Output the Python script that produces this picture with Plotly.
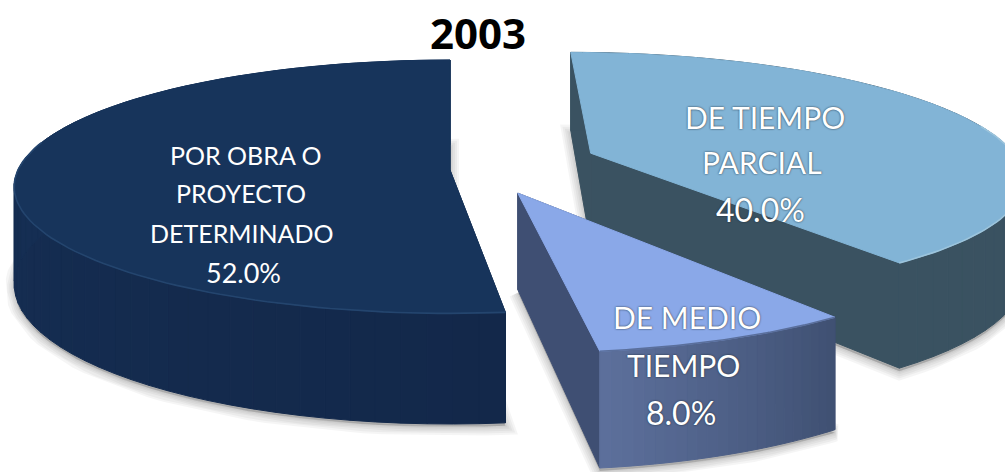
import numpy as np
import plotly.graph_objects as go

# --- data ---
title_text = "2003"
categories = ["DE TIEMPO PARCIAL", "DE MEDIO TIEMPO", "POR OBRA O PROYECTO DETERMINADO"]
values = [40.0, 8.0, 52.0]
label_lines = [["DE TIEMPO", "PARCIAL"], ["DE MEDIO", "TIEMPO"], ["POR OBRA O", "PROYECTO", "DETERMINADO"]]

# --- style ---
top_colors = ["#82b4d6", "#8aa8e8", "#17345b"]
face_colors = ["#3a5261", "#3f4f73", "#16304f"]
wall_start = ["#3a5261", "#3f5072", "#13284a"]
wall_end = ["#3a5261", "#5d709c", "#17335a"]
rim_colors = ["#9cc4dc", "#5a6f9c", "#24456e"]
offsets = [(145, -0.18), (66, 0.157), (0, 0.0)]  # exploded slice offset
start_nudge = [0.0, 0.0, 0.8]
radius = [436.0, 435.0, 432.0]
persp = [0.17, 0.17, 0.132]
vanish_y = [-564.0, -564.0, -773.0]
depth = [734.0, 734.0, 943.0]
height = [94.0, 94.0, 96.0]
y_shift = [5.0, 3.0, 0.0]
label_x = [[765, 762, 760], [687, 683, 681], [245, 241, 242, 243]]
label_y = [[117, 162, 209], [317, 365, 412], [155, 193, 233, 272]]
label_size = [30, 30, 25]
pct_size = [32, 32, 27]
label_outline = [True, True, False]
draw_order = [0, 2, 1]
VX = 450.0


def project(i, x_world, f_world, level=0.0):
    s = 1.0 / (1.0 - persp[i] * f_world)
    return VX + x_world * s, vanish_y[i] + (depth[i] + level) * s + y_shift[i]


def slice_outline(i, start, end, level=0.0, n=80):
    off = offsets[i]
    th = np.radians(np.linspace(start, end, n))
    xs = off[0] + radius[i] * np.sin(th)
    fs = off[1] - np.cos(th)
    ax, ay = project(i, off[0], off[1], level)
    px, py = project(i, xs, fs, level)
    return np.r_[ax, px, ax], np.r_[ay, py, ay]


def hex_mix(a, b, t):
    ca = [int(a[i:i + 2], 16) for i in (1, 3, 5)]
    cb = [int(b[i:i + 2], 16) for i in (1, 3, 5)]
    return "rgb(%d,%d,%d)" % tuple(round(p + (q - p) * t) for p, q in zip(ca, cb))


fig = go.Figure()


def poly(x, y, fill, line=None, width=1.0):
    fig.add_trace(go.Scatter(
        x=list(x), y=list(y), mode="lines", fill="toself", fillcolor=fill,
        line=dict(color=line or fill, width=width), hoverinfo="skip", showlegend=False,
    ))


spans = []
acc = 0.0
for v, nudge in zip(values, start_nudge):
    spans.append((acc + nudge, acc + v * 3.6))
    acc += v * 3.6

for i in draw_order:
    a0, a1 = spans[i]
    off = offsets[i]
    R, H = radius[i], height[i]

    # soft ground shadow
    bx, by = slice_outline(i, a0, a1, H)
    for w in (18, 14, 10, 6, 3):
        fig.add_trace(go.Scatter(
            x=list(bx), y=list(by + 3), mode="lines", fill="toself",
            fillcolor="rgba(0,0,0,0.04)", line=dict(color="rgba(0,0,0,0.04)", width=w),
            hoverinfo="skip", showlegend=False,
        ))

    # cut faces
    for ang in (a0, a1):
        th = np.radians(ang)
        ax, ay = project(i, off[0], off[1])
        abx, aby = project(i, off[0], off[1], H)
        ex, ey = project(i, off[0] + R * np.sin(th), off[1] - np.cos(th))
        ebx, eby = project(i, off[0] + R * np.sin(th), off[1] - np.cos(th), H)
        poly([ax, ex, ebx, abx, ax], [ay, ey, eby, aby, ay], face_colors[i])

    # outer wall, in strips so that it can carry a gradient
    n_strips = max(24, int((a1 - a0) / 3))
    edges = np.linspace(a0, a1, n_strips + 1)
    for j in range(n_strips):
        th = np.radians(np.linspace(edges[j], edges[j + 1], 5))
        xs, fs = off[0] + R * np.sin(th), off[1] - np.cos(th)
        tx, ty = project(i, xs, fs)
        wx, wy = project(i, xs, fs, H)
        col = hex_mix(wall_start[i], wall_end[i], (j + 0.5) / n_strips)
        poly(np.r_[tx, wx[::-1], tx[0]], np.r_[ty, wy[::-1], ty[0]], col)

    # top surface
    tx, ty = slice_outline(i, a0, a1)
    poly(tx, ty, top_colors[i])

    # lit rim on the front of the top surface
    th = np.radians(np.linspace(a0, a1, 120))
    mask = np.cos(th) < 0.25
    rx, ry = project(i, off[0] + R * np.sin(th[mask]), off[1] - np.cos(th[mask]))
    fig.add_trace(go.Scatter(x=list(rx), y=list(ry), mode="lines",
                             line=dict(color=rim_colors[i], width=1.6),
                             hoverinfo="skip", showlegend=False))

annotations = [dict(
    x=478, y=32, xref="x", yref="y", text="<b>%s</b>" % title_text, showarrow=False,
    font=dict(family="Open Sans", size=42, color="black"),
)]
for i, lines in enumerate(label_lines):
    texts = lines + ["%.1f%%" % values[i]]
    for k, line in enumerate(texts):
        size = pct_size[i] if k == len(lines) else label_size[i]
        font = dict(family="Lato", size=size, color="white")
        if label_outline[i]:
            font["shadow"] = "0px 0px 2px #1f2a36"
        annotations.append(dict(x=label_x[i][k], y=label_y[i][k], xref="x", yref="y",
                                text=line, showarrow=False, font=font))

fig.update_layout(
    width=1005, height=472, margin=dict(l=0, r=0, t=0, b=0),
    paper_bgcolor="white", plot_bgcolor="white",
    xaxis=dict(range=[0, 1005], visible=False, fixedrange=True),
    yaxis=dict(range=[472, 0], visible=False, fixedrange=True),
    annotations=annotations, showlegend=False,
)
fig.write_html("out.html", config=dict(displayModeBar=False),
               post_script="document.body.style.margin='0';document.body.style.overflow='hidden';")
